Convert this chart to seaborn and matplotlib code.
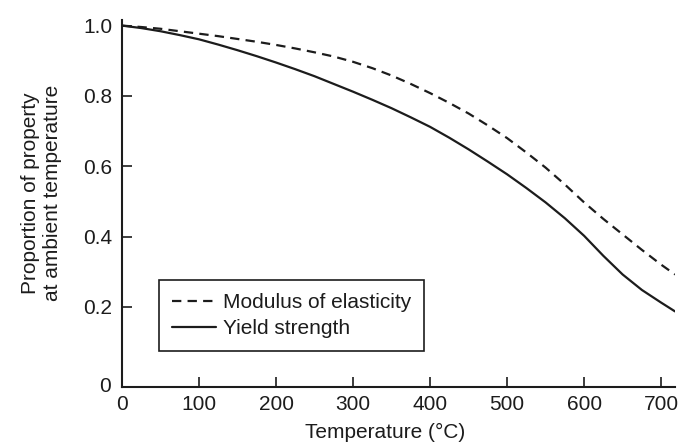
import pandas as pd
import matplotlib
matplotlib.use("Agg")
import matplotlib.pyplot as plt
import seaborn as sns

# Values (proportion of ambient-temperature value)
temperature = [0, 25, 50, 75, 100, 125, 150, 175, 200, 225, 250, 275, 300, 325, 350,
               375, 400, 425, 450, 475, 500, 525, 550, 575, 600, 625, 650, 675, 700, 718]
modulus = [1.0, 0.996, 0.991, 0.984, 0.977, 0.970, 0.962, 0.954, 0.945, 0.935, 0.924, 0.912,
           0.897, 0.879, 0.858, 0.834, 0.808, 0.780, 0.750, 0.716, 0.680, 0.639, 0.596, 0.548,
           0.497, 0.450, 0.406, 0.362, 0.320, 0.292]
yield_strength = [1.0, 0.993, 0.984, 0.973, 0.961, 0.946, 0.930, 0.913, 0.895, 0.876, 0.856,
                  0.834, 0.812, 0.789, 0.765, 0.739, 0.712, 0.681, 0.648, 0.613, 0.577, 0.538,
                  0.497, 0.452, 0.402, 0.345, 0.292, 0.248, 0.212, 0.187]

series_names = ["Modulus of elasticity", "Yield strength"]
x_ticks = [0, 100, 200, 300, 400, 500, 600, 700]
y_ticks = [0.2, 0.4, 0.6, 0.8, 1.0]
y_tick_labels = ["0.2", "0.4", "0.6", "0.8", "1.0"]

# long-form table for seaborn
df = pd.concat([
    pd.DataFrame({"Temperature": temperature, "Proportion": modulus, "Property": series_names[0]}),
    pd.DataFrame({"Temperature": temperature, "Proportion": yield_strength, "Property": series_names[1]}),
])

sns.set_style("ticks")
plt.rcParams["font.family"] = ["Liberation Sans", "DejaVu Sans"]
ink = "#1c1c1c"
fs = 15

fig = plt.figure(figsize=(6.83, 4.48), dpi=100)
ax = fig.add_axes([0.1786, 0.1362, 0.8097, 0.8192])

sns.lineplot(data=df, x="Temperature", y="Proportion", hue="Property", style="Property",
             palette={series_names[0]: ink, series_names[1]: ink},
             dashes={series_names[0]: (4.2, 2.8), series_names[1]: ""},
             linewidth=1.6, ax=ax)

ax.set_xlim(0, 718)
ax.set_ylim(-0.028, 1.016)
ax.set_xticks(x_ticks)
ax.set_yticks(y_ticks)
ax.set_yticklabels(y_tick_labels)
ax.tick_params(direction="in", length=7.5, width=1.2, colors=ink, labelsize=fs)
ax.tick_params(axis="x", pad=6)
ax.tick_params(axis="y", pad=7)
# origin label shared by both axes
ax.text(-0.02, 0.0, "0", transform=ax.transAxes, ha="right", va="center",
        fontsize=fs, color=ink)

sns.despine(ax=ax)
for side in ["left", "bottom"]:
    ax.spines[side].set_linewidth(1.5)
    ax.spines[side].set_color(ink)

ax.set_xlabel("Temperature (\u00b0C)", fontsize=fs, color=ink)
ax.xaxis.set_label_coords(0.476, -0.098)
ax.set_ylabel("Proportion of property\nat ambient temperature", fontsize=fs, color=ink,
              linespacing=1.25)
ax.yaxis.set_label_coords(-0.108, 0.529)

leg = ax.legend(loc="lower left", bbox_to_anchor=(0.067, 0.098), fontsize=fs,
                frameon=True, fancybox=False, handlelength=2.1, handletextpad=0.35,
                labelspacing=0.35, borderpad=0.62, borderaxespad=0)
leg.get_frame().set_edgecolor(ink)
leg.get_frame().set_linewidth(1.2)
leg.get_frame().set_alpha(1)
for t in leg.get_texts():
    t.set_color(ink)

fig.savefig("out.png", dpi=100)
